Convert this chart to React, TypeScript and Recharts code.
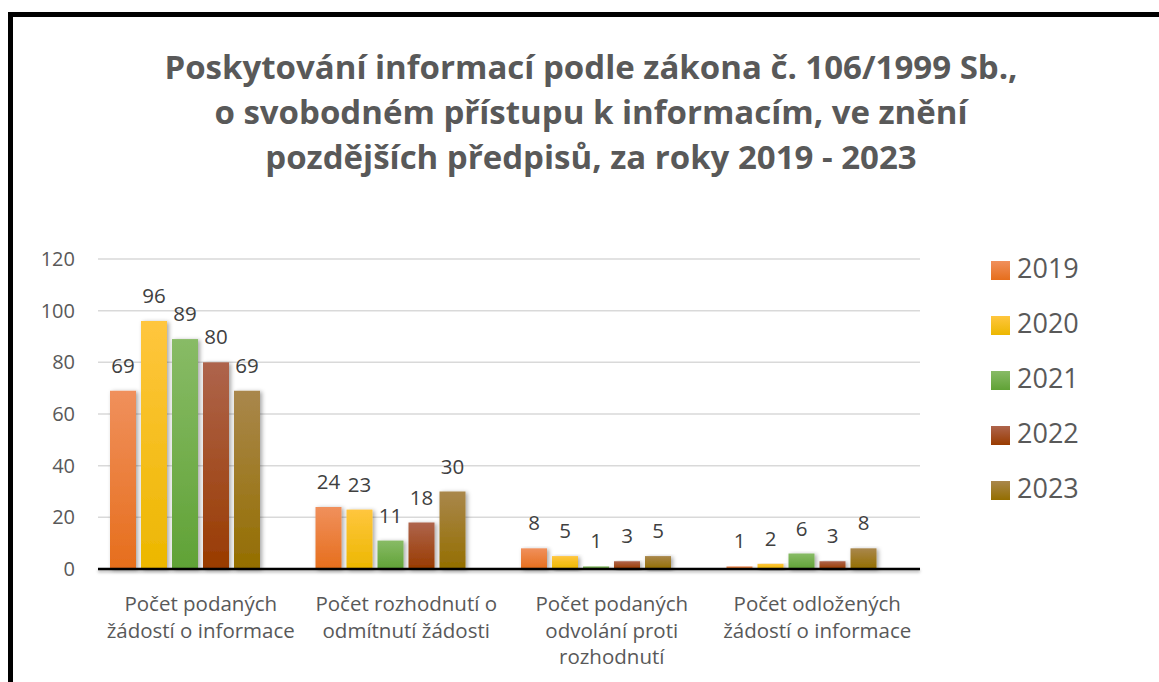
import React from "react";
import { BarChart, Bar, XAxis, YAxis, CartesianGrid, Legend, LabelList } from "recharts";

const titleLines = [
  "Poskytování informací podle zákona č. 106/1999 Sb.,",
  "o svobodném přístupu k informacím, ve znění",
  "pozdějších předpisů, za roky 2019 - 2023",
];

const categories = [
  "Počet podaných\nžádostí o informace",
  "Počet rozhodnutí o\nodmítnutí žádosti",
  "Počet podaných\nodvolání proti\nrozhodnutí",
  "Počet odložených\nžádostí o informace",
];

const years = ["2019", "2020", "2021", "2022", "2023"];
const values2019 = [69, 24, 8, 1];
const values2020 = [96, 23, 5, 2];
const values2021 = [89, 11, 1, 6];
const values2022 = [80, 18, 3, 3];
const values2023 = [69, 30, 5, 8];
const seriesValues = [values2019, values2020, values2021, values2022, values2023];

const yTicks = [0, 20, 40, 60, 80, 100, 120];

// gradient colours (top, bottom) per year
const gradTop = ["#F0905C", "#FFC63E", "#88BB66", "#AE644C", "#A9874C"];
const gradBottom = ["#E66E1C", "#ECB700", "#60A236", "#993B00", "#946E00"];

const data = categories.map((c, i) => {
  const row: Record<string, any> = { category: c };
  years.forEach((y, k) => {
    row["y" + y] = seriesValues[k][i];
  });
  return row;
});

const FONT = "'Open Sans', sans-serif";

const BarShape = (p: any) =>
  p.height > 0 ? (
    <rect x={p.x} y={p.y} width={p.width} height={p.height} fill={p.fill} filter="url(#barShadow)" />
  ) : null;

const ValueLabel = (p: any) => (
  <text
    x={p.x + p.width / 2}
    y={p.y - 18}
    textAnchor="middle"
    fontSize={20.5}
    fill="#404040"
    fontFamily={FONT}
  >
    {p.value}
  </text>
);

const CategoryTick = (p: any) => {
  const lines = String(p.payload.value).split("\n");
  return (
    <text x={p.x} y={p.y} textAnchor="middle" fontSize={20.5} fill="#595959" fontFamily={FONT}>
      {lines.map((l, i) => (
        <tspan key={i} x={p.x} dy={i === 0 ? 34 : 26.5}>
          {l}
        </tspan>
      ))}
    </text>
  );
};

const LegendContent = () => (
  <div style={{ fontFamily: FONT }}>
    {years.map((y, k) => (
      <div key={y} style={{ position: "relative", height: 55 }}>
        <div
          style={{
            position: "absolute",
            left: 0,
            top: 6,
            width: 19,
            height: 19,
            background: `linear-gradient(${gradTop[k]}, ${gradBottom[k]})`,
          }}
        />
        <div
          style={{
            position: "absolute",
            left: 26,
            top: -7,
            fontSize: 27,
            lineHeight: "40px",
            color: "#595959",
          }}
        >
          {y}
        </div>
      </div>
    ))}
  </div>
);

export default function App() {
  return (
    <div
      style={{
        position: "fixed",
        left: 0,
        top: 0,
        width: 1159,
        height: 682,
        overflow: "hidden",
        background: "#fff",
      }}
    >
      <div
        style={{
          position: "absolute",
          left: 8,
          top: 12,
          width: 1220,
          height: 720,
          border: "5px solid #000",
          boxSizing: "border-box",
        }}
      />
      <svg
        width={1159}
        height={200}
        style={{ position: "absolute", left: 0, top: 0 }}
      >
        {titleLines.map((t, i) => (
          <text
            key={i}
            x={591}
            y={79 + i * 45}
            textAnchor="middle"
            fontFamily={FONT}
            fontWeight={700}
            fontSize={33}
            fill="#595959"
          >
            {t}
          </text>
        ))}
      </svg>
      <div style={{ position: "absolute", left: 0, top: 0 }}>
        <BarChart
          width={1159}
          height={682}
          data={data}
          margin={{ top: 259, right: 239, left: 0, bottom: 13 }}
          barGap={5}
          barCategoryGap={12}
          style={{ fontFamily: FONT }}
        >
          <defs>
            {years.map((y, k) => (
              <linearGradient key={y} id={"g" + y} x1="0" y1="0" x2="0" y2="1">
                <stop offset="0%" stopColor={gradTop[k]} />
                <stop offset="100%" stopColor={gradBottom[k]} />
              </linearGradient>
            ))}
            <filter id="barShadow" x="-30%" y="-10%" width="160%" height="130%">
              <feDropShadow dx="2" dy="1" stdDeviation="2" floodColor="#000" floodOpacity="0.35" />
            </filter>
            <filter
              id="axisShadow"
              filterUnits="userSpaceOnUse"
              x="0"
              y="0"
              width="1159"
              height="682"
            >
              <feDropShadow dx="0" dy="2" stdDeviation="1.5" floodColor="#000" floodOpacity="0.3" />
            </filter>
          </defs>
          <CartesianGrid vertical={false} stroke="#D9D9D9" strokeWidth={1.5} />
          <YAxis
            width={98}
            domain={[0, 120]}
            ticks={yTicks}
            axisLine={false}
            tickLine={false}
            tickMargin={17}
            tick={{ fontSize: 20, fill: "#595959", fontFamily: FONT }}
          />
          <XAxis
            dataKey="category"
            height={100}
            axisLine={{ stroke: "#000", strokeWidth: 2.5, filter: "url(#axisShadow)" }}
            tickLine={false}
            interval={0}
            tick={<CategoryTick />}
          />
          <Legend
            layout="vertical"
            align="center"
            verticalAlign="middle"
            content={<LegendContent />}
            wrapperStyle={{ position: "absolute", left: 991, top: 255, width: 150 }}
          />
          {years.map((y) => (
            <Bar
              key={y}
              dataKey={"y" + y}
              name={y}
              fill={`url(#g${y})`}
              barSize={26}
              shape={<BarShape />}
              isAnimationActive={false}
            >
              <LabelList dataKey={"y" + y} content={<ValueLabel />} />
            </Bar>
          ))}
          <Bar dataKey="empty" legendType="none" barSize={26} isAnimationActive={false} />
        </BarChart>
      </div>
    </div>
  );
}
